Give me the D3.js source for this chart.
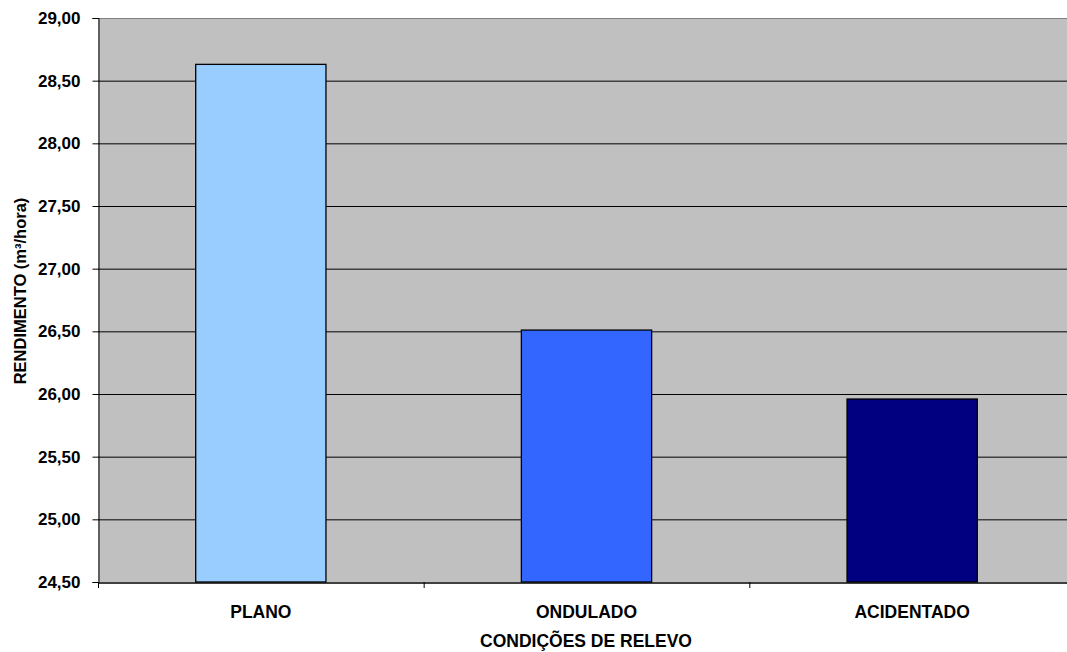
<!DOCTYPE html>
<html><head><meta charset="utf-8">
<script src="https://cdn.jsdelivr.net/npm/d3@7"></script>
<style>body{margin:0;background:#fff;} svg{display:block;}</style>
</head><body>
<svg id="c" width="1067" height="652"></svg>
<script>
const categories = ["PLANO", "ONDULADO", "ACIDENTADO"];
const values = [28.63, 26.51, 25.96];
const barColors = ["#99CCFF", "#3366FF", "#000080"];
const yTicks = [24.5, 25, 25.5, 26, 26.5, 27, 27.5, 28, 28.5, 29];
const yTitle = "RENDIMENTO (m³/hora)";
const xTitle = "CONDIÇÕES DE RELEVO";

const svg = d3.select("#c");
const L = 98, T = 18, B = 582, R = 1075;
const FF = "Liberation Sans, Arial, sans-serif";
const x = d3.scaleBand().domain(categories).range([L, R]).paddingInner(0).paddingOuter(0);
const y = d3.scaleLinear().domain([24.5, 29]).range([B, T]);
const fmt = d => d.toFixed(2).replace(".", ",");

svg.append("rect").attr("x", L).attr("y", T).attr("width", R - L).attr("height", B - T).attr("fill", "#C0C0C0");

// gridlines
svg.append("g").selectAll("line").data(yTicks.slice(1)).join("line")
  .attr("x1", L).attr("x2", R).attr("y1", d => y(d) + 0.5).attr("y2", d => y(d) + 0.5)
  .attr("stroke", d => d === 29 ? "#808080" : "#000").attr("stroke-width", 1);

// bars
const bw = x.bandwidth() * 0.4;
svg.append("g").selectAll("rect").data(categories).join("rect")
  .attr("x", d => x(d) + (x.bandwidth() - bw) / 2)
  .attr("y", (d, i) => y(values[i]))
  .attr("width", bw)
  .attr("height", (d, i) => B - y(values[i]))
  .attr("fill", (d, i) => barColors[i])
  .attr("stroke", "#000").attr("stroke-width", 1.3);

// y axis
const ya = svg.append("g").attr("transform", `translate(${L + 0.5},0)`)
  .call(d3.axisLeft(y).tickValues(yTicks).tickFormat(fmt).tickSize(6).tickPadding(12));
ya.select(".domain").attr("stroke", "#000");
ya.selectAll(".tick line").attr("stroke", "#000");
ya.selectAll("text").attr("font-family", FF)
  .attr("font-weight", "bold").attr("font-size", 17).attr("fill", "#000");

// x axis
const xa = svg.append("g").attr("transform", `translate(0,${B + 0.5})`)
  .call(d3.axisBottom(x).tickSize(0).tickPadding(0));
xa.select(".domain").attr("stroke", "#000").attr("stroke-width", 1.5);
xa.selectAll("text").attr("font-family", FF).attr("dy", null).attr("y", 35)
  .attr("font-weight", "bold").attr("font-size", 17.5).attr("fill", "#000");
// category separators
svg.append("g").selectAll("line").data(categories).join("line")
  .attr("x1", d => x(d) + 0.5).attr("x2", d => x(d) + 0.5)
  .attr("y1", B).attr("y2", B + 6).attr("stroke", "#000");

// titles
svg.append("text").attr("x", 586).attr("y", 647).attr("text-anchor", "middle")
  .attr("font-family", FF).attr("font-weight", "bold")
  .attr("font-size", 17.5).text(xTitle);
svg.append("text").attr("transform", "translate(26,291) rotate(-90)").attr("text-anchor", "middle")
  .attr("font-family", FF).attr("font-weight", "bold")
  .attr("font-size", 16.5).text(yTitle);
</script>
</body></html>
